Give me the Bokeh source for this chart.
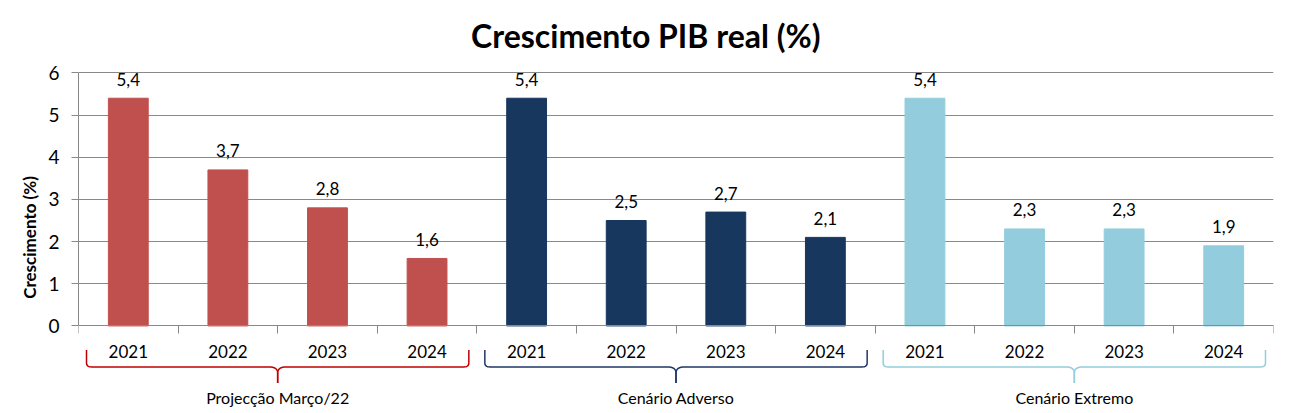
from bokeh.plotting import figure
from bokeh.models import LinearAxis, FixedTicker, Range1d, ColumnDataSource
from bokeh.core.properties import value
from bokeh.embed import file_html
from bokeh.resources import INLINE

# ---- data ----
groups = ["Projecção Março/22", "Cenário Adverso", "Cenário Extremo"]
years = ["2021", "2022", "2023", "2024"]
proj_marco = [5.4, 3.7, 2.8, 1.6]
cen_adverso = [5.4, 2.5, 2.7, 2.1]
cen_extremo = [5.4, 2.3, 2.3, 1.9]
group_colors = ["#C0504D", "#17375E", "#93CDDD"]
brace_colors = ["#C00000", "#1F3864", "#93CDDD"]
y_ticks = [0, 1, 2, 3, 4, 5, 6]
title_text = "Crescimento PIB real (%)"

series = [proj_marco, cen_adverso, cen_extremo]
n_years = len(years)
n_cat = n_years * len(groups)

FONT = "Lato"
W, H = 1281, 410
ML, MR, MT, MB = 78, 8, 64, 0
y_end = 6.2
frame_w = W - ML - MR
frame_h = H - MT - MB
uy = (325 - 72) / 6.0              # px per y unit (0 at 325, 6 at 72)
y_start = y_end - frame_h / uy
ux = frame_w / n_cat              # px per x unit

p = figure(width=W, height=H, output_backend="svg", toolbar_location=None,
           x_range=Range1d(0, n_cat), y_range=Range1d(y_start, y_end),
           x_axis_location=None, min_border_left=ML, min_border_right=MR,
           min_border_top=MT, min_border_bottom=MB)
p.outline_line_color = None
p.background_fill_color = "white"

# title (right aligned so that it sits centred on the whole figure)
p.title.text = title_text
p.title.text_font = FONT
p.title.text_font_size = "32px"
p.title.text_font_style = "bold"
p.title.text_color = "black"
p.title.align = "right"
p.title.offset = 453
p.title.standoff = 19

# y axis
ya = p.yaxis[0]
ya.ticker = FixedTicker(ticks=y_ticks)
ya.bounds = (0, 6)
ya.axis_line_color = "#898989"
ya.major_tick_line_color = "#898989"
ya.major_tick_out = 7
ya.major_tick_in = 0
ya.minor_tick_line_color = None
ya.major_label_text_font = FONT
ya.major_label_text_font_size = "19px"
ya.major_label_text_color = "black"
ya.major_label_standoff = 12
ya.axis_label = "Crescimento (%)"
ya.axis_label_text_font = FONT
ya.axis_label_text_font_size = "17px"
ya.axis_label_text_font_style = "bold"
ya.axis_label_text_color = "black"
ya.axis_label_standoff = 5

p.ygrid.ticker = FixedTicker(ticks=y_ticks)
p.ygrid.grid_line_color = "#898989"
p.ygrid.bounds = (0, 6)
p.xgrid.grid_line_color = None

# x axis at y=0 with ticks on category boundaries
xa = LinearAxis(fixed_location=0, ticker=FixedTicker(ticks=list(range(n_cat + 1))))
xa.axis_line_color = "#898989"
xa.major_tick_line_color = "#898989"
xa.major_tick_out = 8
xa.major_tick_in = 0
xa.minor_tick_line_color = None
xa.major_label_text_font_size = "0px"
xa.major_label_overrides = {i: "" for i in range(n_cat + 1)}
p.add_layout(xa, "below")

# bars
xs, tops, cols, labs, yrs = [], [], [], [], []
for g, vals in enumerate(series):
    for i, v in enumerate(vals):
        xs.append(g * n_years + i + 0.5)
        tops.append(v)
        cols.append(group_colors[g])
        labs.append(f"{v:.1f}".replace(".", ","))
        yrs.append(years[i])
src = ColumnDataSource(dict(x=xs, top=tops, color=cols, lab=labs, yr=yrs,
                            ly=[t + 19 / uy for t in tops],
                            yy=[-26 / uy] * len(xs)))
p.vbar(x="x", top="top", bottom=0, width=0.4, color="color", source=src)

p.text(x="x", y="ly", text="lab", source=src, text_align="center",
       text_baseline="middle", text_font=value(FONT), text_font_size="17px",
       text_color="black")
p.text(x="x", y="yy", text="yr", source=src, text_align="center",
       text_baseline="middle", text_font=value(FONT), text_font_size="17px",
       text_color="black")

# group labels
gx = [g * n_years + n_years / 2 for g in range(len(groups))]
p.text(x=gx, y=[-72 / uy] * len(groups), text=groups, text_align="center",
       text_baseline="middle", text_font=value(FONT), text_font_size="16px",
       text_color="black")

# braces
def quad(p0, c, p1, n=8):
    pts = []
    for k in range(n + 1):
        t = k / n
        x = (1 - t) ** 2 * p0[0] + 2 * (1 - t) * t * c[0] + t ** 2 * p1[0]
        y = (1 - t) ** 2 * p0[1] + 2 * (1 - t) * t * c[1] + t ** 2 * p1[1]
        pts.append((x, y))
    return pts

bx, by, bc = [], [], []
y_top = -24 / uy
y_line = -41 / uy
y_tip = -57 / uy
for g in range(len(groups)):
    g0 = g * n_years
    g1 = (g + 1) * n_years
    xm = (g0 + g1) / 2
    for side in (-1, 1):
        xe = (g0 + 8 / ux) if side == -1 else (g1 - 8 / ux)
        d = -side  # direction towards middle
        pts = [(xe, y_top)]
        pts += quad((xe, y_line + 4 / uy), (xe, y_line), (xe + d * 5 / ux, y_line))
        pts += quad((xm - d * 9 / ux, y_line), (xm, y_line), (xm, y_line - 6 / uy))
        pts.append((xm, y_tip))
        bx.append([q[0] for q in pts])
        by.append([q[1] for q in pts])
        bc.append(brace_colors[g])
p.multi_line(xs=bx, ys=by, line_color=bc, line_width=1.5)

open("out.html", "w").write(file_html(p, INLINE))
